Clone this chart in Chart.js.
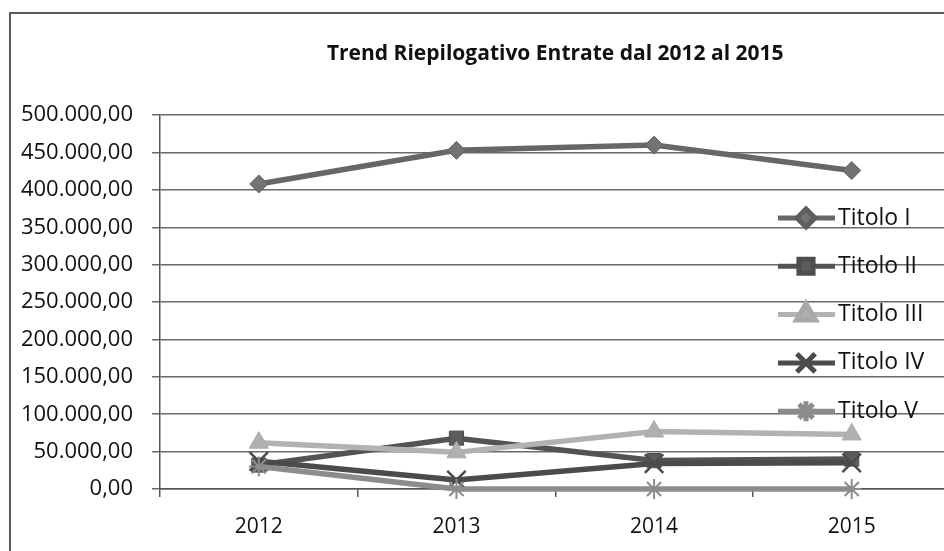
<!DOCTYPE html>
<html>
<head>
<meta charset="utf-8">
<script src="https://cdn.jsdelivr.net/npm/chart.js@4/dist/chart.umd.min.js"></script>
<style>
html, body { margin: 0; padding: 0; background: #fff; overflow: hidden; }
#wrap { position: relative; width: 944px; height: 551px; overflow: hidden; }
#frame { position: absolute; left: 9px; top: 12px; width: 1000px; height: 1000px; border: 2px solid #5a5a5a; pointer-events: none; }
canvas { position: absolute; left: 0; top: 0; }
</style>
</head>
<body>
<div id="wrap">
<canvas id="trend" width="966" height="551"></canvas>
<div id="frame"></div>
</div>
<script>
var titolo = "Trend Riepilogativo Entrate dal 2012 al 2015";
var anni = ["2012", "2013", "2014", "2015"];
var nomi = ["Titolo I", "Titolo II", "Titolo III", "Titolo IV", "Titolo V"];

var titoloI   = [408000, 453000, 460000, 426000];
var titoloII  = [32000, 68000, 38000, 40000];
var titoloIII = [62000, 49000, 77000, 73000];
var titoloIV  = [37000, 12000, 34000, 35000];
var titoloV   = [30000, 0, 0, 0];

var yMin = 0, yMax = 500000, yStep = 50000;

var fontName = "'Open Sans', sans-serif";

function formatIt(v){
	// 500000 -> 500.000,00
	var s = Math.round(v).toString();
	s = s.replace(/\B(?=(\d{3})+(?!\d))/g, '.');
	return s + ',00';
}

var stili = [
	{ color: '#676767', point: 'rectRot', radius: 9, fill: '#737373', edge: '#5e5e5e', bw: 1 },
	{ color: '#535353', point: 'rect', radius: 10, fill: '#5c5c5c', edge: '#4e4e4e', bw: 1 },
	{ color: '#b2b2b2', point: 'triangle', radius: 11, fill: '#b0b0b0', edge: '#a8a8a8', bw: 1 },
	{ color: '#4b4b4b', point: 'crossRot', radius: 13, fill: '#4b4b4b', edge: '#4b4b4b', bw: 2.5 },
	{ color: '#8c8c8c', point: 'star', radius: 10, fill: '#8c8c8c', edge: '#8c8c8c', bw: 2 }
];

var serie = [titoloI, titoloII, titoloIII, titoloIV, titoloV];

var datasets = [];
for (var i = 0; i < serie.length; i++) {
	datasets.push({
		label: nomi[i],
		data: serie[i],
		borderColor: stili[i].color,
		backgroundColor: stili[i].fill,
		borderWidth: 5.5,
		pointStyle: stili[i].point,
		pointRadius: stili[i].radius,
		pointBorderWidth: stili[i].bw,
		pointBorderColor: stili[i].edge,
		pointBackgroundColor: stili[i].fill,
		tension: 0,
		clip: false,
		order: serie.length - i
	});
}

// legenda disegnata dentro l'area del grafico, come nell'originale
var legendaInterna = {
	id: 'legendaInterna',
	afterDraw: function(chart){
		var ctx = chart.ctx;
		ctx.save();
		for (var i = 0; i < chart.data.datasets.length; i++) {
			var ds = chart.data.datasets[i];
			var y = 218 + i * 48.3;
			ctx.strokeStyle = ds.borderColor;
			ctx.lineWidth = 5;
			ctx.beginPath();
			ctx.moveTo(778, y);
			ctx.lineTo(835, y);
			ctx.stroke();
			ctx.fillStyle = ds.pointBackgroundColor;
			ctx.strokeStyle = ds.pointBorderColor;
			Chart.helpers.drawPoint(ctx, {
				pointStyle: ds.pointStyle,
				radius: ds.pointRadius,
				rotation: 0,
				borderWidth: ds.pointBorderWidth
			}, 806, y);
			ctx.fillStyle = '#111';
			ctx.font = '23px ' + fontName;
			ctx.textBaseline = 'middle';
			ctx.textAlign = 'left';
			ctx.fillText(ds.label, 838, y);
		}
		ctx.restore();
	}
};

var ctx = document.getElementById('trend');

var grafico = new Chart(ctx, {
	type: 'line',
	data: {
		labels: anni,
		datasets: datasets
	},
	options: {
		responsive: false,
		animation: false,
		devicePixelRatio: 1,
		layout: { padding: { left: 0, right: 10, top: 0, bottom: 0 } },
		plugins: {
			legend: { display: false },
			tooltip: { enabled: false },
			title: {
				display: true,
				fullSize: false,
				text: titolo,
				color: '#111',
				font: { family: fontName, size: 21, weight: 'bold' },
				padding: { top: 41, bottom: 49 }
			}
		},
		scales: {
			x: {
				offset: true,
				afterFit: function(scale){ scale.height = 62; },
				grid: {
					display: true,
					offset: true,
					drawOnChartArea: false,
					drawTicks: true,
					tickLength: 8,
					color: '#555',
					lineWidth: 1.5
				},
				border: { display: true, color: '#555', width: 1.5 },
				ticks: {
					color: '#111',
					padding: 17,
					font: { family: fontName, size: 21 }
				}
			},
			y: {
				min: yMin,
				max: yMax,
				afterFit: function(scale){ scale.width = 160; },
				grid: {
					color: '#6a6a6a',
					lineWidth: 1.5,
					drawTicks: true,
					tickLength: 8
				},
				border: { display: true, color: '#555', width: 1.5 },
				ticks: {
					stepSize: yStep,
					color: '#111',
					padding: 19,
					font: { family: fontName, size: 22 },
					callback: function(v){ return formatIt(v); }
				}
			}
		}
	},
	plugins: [legendaInterna]
});
</script>
</body>
</html>
